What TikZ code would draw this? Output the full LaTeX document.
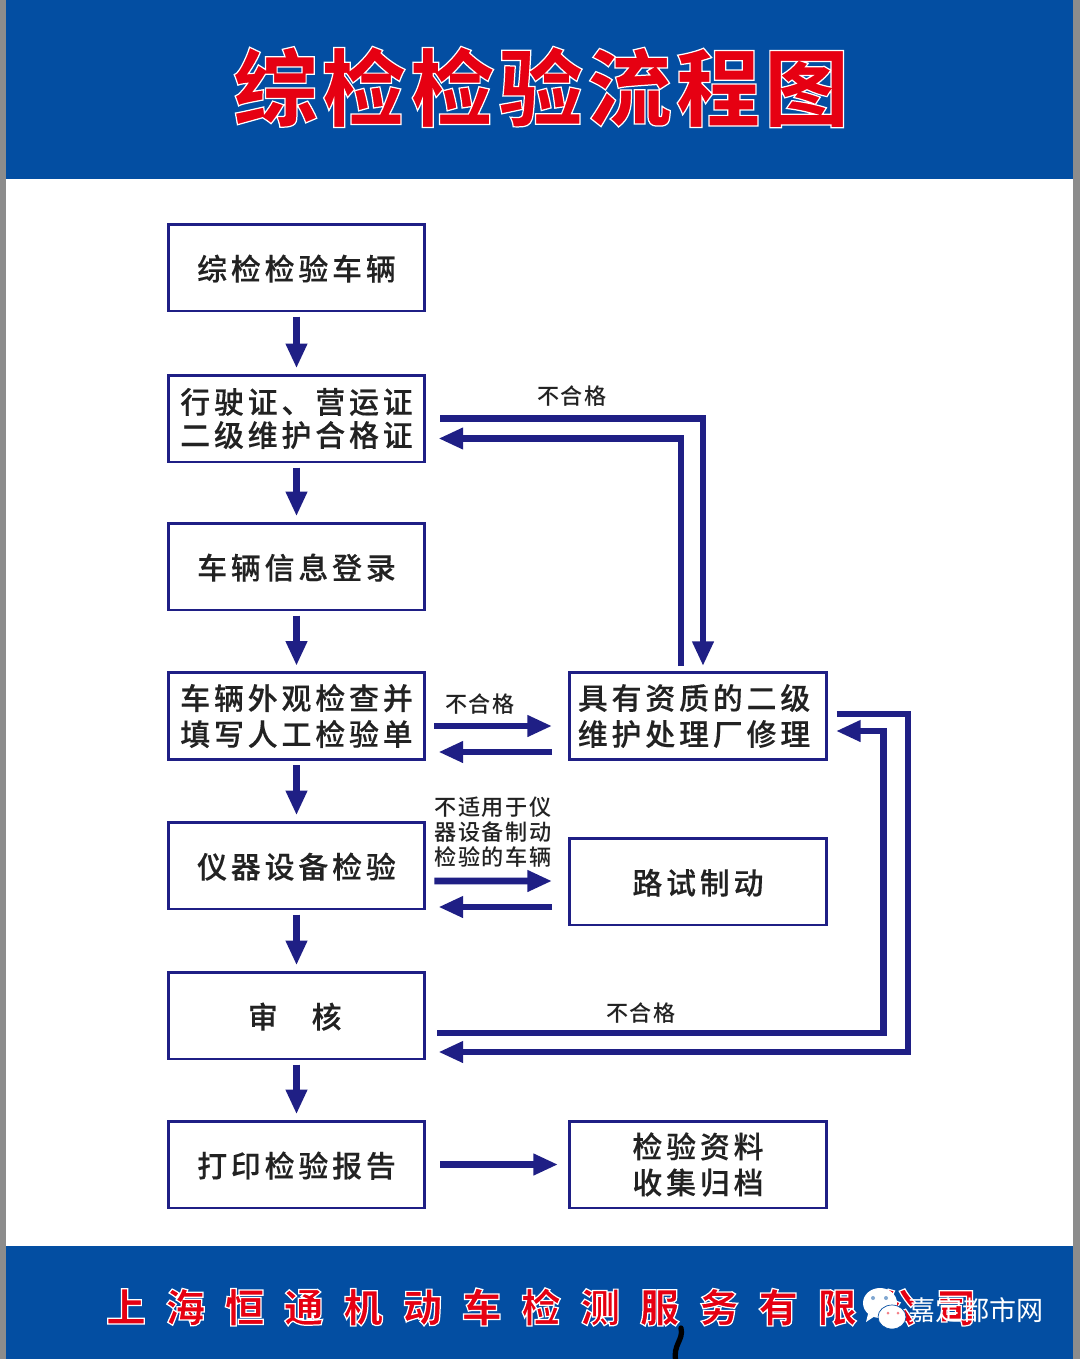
\documentclass[tikz,border=0pt]{standalone}
\usepackage{fontspec}
\usetikzlibrary{arrows.meta}
\newfontfamily\boxcjk[LetterSpace=13,FakeBold=0.3]{Noto Sans CJK SC Medium}
\newfontfamily\notecjk[LetterSpace=8]{Noto Sans CJK SC Medium}
\newfontfamily\markcjk{Noto Sans CJK SC}
\newfontfamily\titlecjk[LetterSpace=5]{Noto Sans CJK SC Black}
\newfontfamily\firmcjk[LetterSpace=50]{Noto Sans CJK SC Black}
\definecolor{bandblue}{HTML}{034EA2}
\definecolor{sidegray}{HTML}{8C8C8C}
\definecolor{flownavy}{HTML}{1F1F85}
\definecolor{titlered}{HTML}{E60012}
\definecolor{inkgray}{HTML}{222222}
\newcommand{\redwhite}[1]{\color{titlered}\special{pdf:code q 2 Tr 0.7 w 1 1 1 RG}#1\special{pdf:code Q}}
\tikzset{
  linerule/.style={execute at begin node={\rule{0pt}{#1}}},
  flowbox/.style={draw=flownavy, line width=1.7pt, fill=white, minimum width=5.14cm, minimum height=1.74cm,
    inner sep=0pt, align=center, text=inkgray, font=\boxcjk\fontsize{17}{20.5}\selectfont, linerule=15.8pt},
  flowarrow/.style={draw=flownavy, line width=3.9pt, -{Triangle[length=14pt,width=11.5pt]}},
  stepshort/.style={shorten <=2.3pt, shorten >=3pt},
  notelabel/.style={text=inkgray, align=center, inner sep=0pt, font=\notecjk\fontsize{12.6}{14.2}\selectfont},
}
\begin{document}
\begin{tikzpicture}[x=0.02cm, y=-0.02cm]
        \useasboundingbox (0,0) rectangle (1080,1359);
        % Page and bands
        \fill[sidegray] (0,0) rectangle (1080,1359);
        \fill[white] (6,179) rectangle (1073,1246);
        \fill[bandblue] (6,0) rectangle (1073,179);
        \fill[bandblue] (6,1246) rectangle (1073,1359);
        \node[inner sep=0pt, font=\titlecjk\fontsize{48}{50}\selectfont] (title) at (541,87) {\redwhite{综检检验流程图}};
        \node[inner sep=0pt, font=\firmcjk\fontsize{22.5}{26}\selectfont] (firm) at (541,1307) {\redwhite{上海恒通机动车检测服务有限公司}};
        % Left column
        \node[flowbox] (vehicle) at (296.5,267.5) {综检检验车辆};
        \node[flowbox, linerule=20pt] (licence) at (296.5,418.5) {行驶证、营运证\\[-1.6pt]二级维护合格证};
        \node[flowbox] (login) at (296.5,566.5) {车辆信息登录};
        \node[flowbox, linerule=17.5pt] (outlook) at (296.5,716) {车辆外观检查并\\填写人工检验单};
        \node[flowbox] (device) at (296.5,865.5) {仪器设备检验};
        \node[flowbox] (audit) at (296.5,1015.5) {\hspace*{-2pt}审\hspace{19.3pt}核};
        \node[flowbox] (report) at (296.5,1164.5) {打印检验报告};
        % Right column
        \node[flowbox, linerule=18pt] (repair) at (698,716) {\hspace*{-4.5pt}具有资质的二级\\\hspace*{-4.5pt}维护处理厂修理};
        \node[flowbox] (road) at (698,881.5) {路试制动};
        \node[flowbox, linerule=19pt] (archive) at (698,1164.5) {检验资料\\收集归档};
        % Main flow
        \draw[flowarrow, stepshort] (vehicle) -- (licence);
        \draw[flowarrow, stepshort] (licence) -- (login);
        \draw[flowarrow, stepshort] (login) -- (outlook);
        \draw[flowarrow, stepshort] (outlook) -- (device);
        \draw[flowarrow, stepshort] (device) -- (audit);
        \draw[flowarrow, stepshort] (audit) -- (report);
        % Side arrows
        \draw[flowarrow] ([shift={(8,10)}]outlook.east) -- ([shift={(-16,10)}]repair.west);
        \draw[flowarrow] ([shift={(-16,36)}]repair.west) -- ([shift={(12,36)}]outlook.east);
        \draw[flowarrow] ([shift={(8,15.5)}]device.east) -- ([shift={(-16,-0.5)}]road.west);
        \draw[flowarrow] ([shift={(-16,25.5)}]road.west) -- ([shift={(12,41.5)}]device.east);
        \draw[flowarrow] ([xshift=0.28cm]report.east) -- ([xshift=-0.2cm]archive.west);
        % Return lines
        \draw[flowarrow] ([shift={(14,0)}]licence.east) -| ([shift={(5,-5)}]repair.north);
        \draw[flowarrow] ([shift={(-17,-5)}]repair.north) |- ([shift={(12,20)}]licence.east);
        \draw[flowarrow] ([shift={(9,-2)}]repair.east) -- ++(71,0) |- ([shift={(12,36.5)}]audit.east);
        \draw[flowarrow] ([shift={(11,17.5)}]audit.east) -- ++(446,0) |- ([shift={(8,15)}]repair.east);
        % Labels
        \node[notelabel] (failtop) at (572,396) {不合格};
        \node[notelabel] (failmid) at (480,704) {不合格};
        \node[notelabel] (unfit) at (493,832) {不适用于仪\\器设备制动\\检验的车辆};
        \node[notelabel] (failbot) at (641,1013) {不合格};
        % Watermark
        \fill[white] (880,1303) ellipse (17 and 15);
        \fill[white] (868,1314) -- (875,1316) -- (866,1322) -- cycle;
        \fill[white, draw=bandblue, thin] (892,1317) ellipse (14 and 12);
        \fill[bandblue!50] (873,1298) circle (2) (886,1298) circle (2);
        \fill[titlered!50] (888,1313) circle (1.5) (898,1313) circle (1.5);
        \node[inner sep=0pt, text=white, font=\markcjk\fontsize{15.4}{18}\selectfont] (mark) at (976,1310) {嘉定都市网};
        \draw[black, line width=3pt, line cap=round] (681,1328) .. controls (684,1340) and (672,1345) .. (676,1362);
\end{tikzpicture}
\end{document}
